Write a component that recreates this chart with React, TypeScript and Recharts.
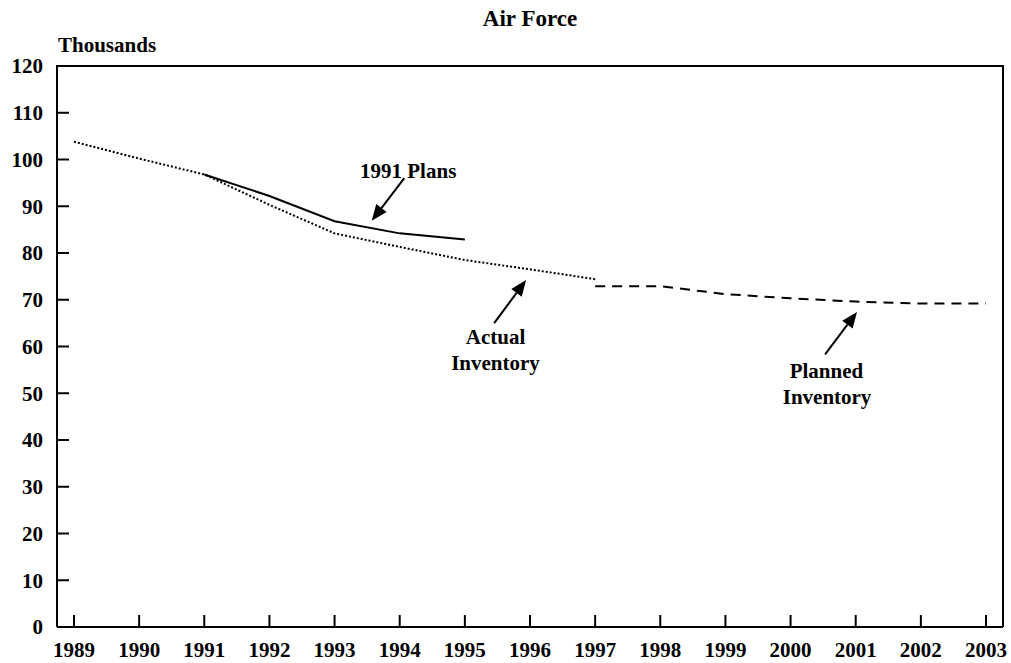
import React from "react";
import { LineChart, Line, XAxis, YAxis, ReferenceLine, ReferenceDot } from "recharts";

const years = [1989, 1990, 1991, 1992, 1993, 1994, 1995, 1996, 1997, 1998, 1999, 2000, 2001, 2002, 2003];
const actualInventory = [103.8, 100.2, 96.8, 90.3, 84.2, 81.3, 78.5, 76.5, 74.4, null, null, null, null, null, null];
const plans1991 = [null, null, 96.8, 92.2, 86.8, 84.2, 82.9, null, null, null, null, null, null, null, null];
const plannedInventory = [null, null, null, null, null, null, null, null, 72.9, 72.9, 71.2, 70.3, 69.6, 69.2, 69.2];
const yTicks = [0, 10, 20, 30, 40, 50, 60, 70, 80, 90, 100, 110, 120];

const data = years.map((y, i) => ({
  year: y,
  actual: actualInventory[i],
  plans: plans1991[i],
  planned: plannedInventory[i],
}));

const FONT = "'Liberation Serif', 'Times New Roman', serif";

const Arrow = (p: any) => {
  const { x1, y1, x2, y2 } = p;
  const dx = x2 - x1;
  const dy = y2 - y1;
  const len = Math.sqrt(dx * dx + dy * dy);
  const ux = dx / len;
  const uy = dy / len;
  const hl = 16;
  const hw = 6.5;
  const bx = x2 - ux * hl;
  const by = y2 - uy * hl;
  const px = -uy;
  const py = ux;
  return (
    <g>
      <line x1={x1} y1={y1} x2={bx} y2={by} stroke="#000" strokeWidth={2} />
      <polygon
        points={`${x2},${y2} ${bx + px * hw},${by + py * hw} ${bx - px * hw},${by - py * hw}`}
        fill="#000"
      />
    </g>
  );
};

const makeLabel = (text: string) => (p: any) => (
  <text
    x={p.cx}
    y={p.cy}
    textAnchor="middle"
    fontFamily={FONT}
    fontWeight="bold"
    fontSize={21}
    fill="#000"
  >
    {text}
  </text>
);

const annotations = [
  { text: "1991 Plans", x: 1994.13, y: 96.0 },
  { text: "Actual", x: 1995.47, y: 60.5 },
  { text: "Inventory", x: 1995.47, y: 55.0 },
  { text: "Planned", x: 2000.55, y: 53.3 },
  { text: "Inventory", x: 2000.56, y: 47.7 },
];

const arrows = [
  { from: { x: 1994.07, y: 96.0 }, to: { x: 1993.57, y: 86.9 } },
  { from: { x: 1995.45, y: 65.0 }, to: { x: 1995.94, y: 74.2 } },
  { from: { x: 2000.53, y: 58.3 }, to: { x: 2001.02, y: 67.4 } },
];

export default function App() {
  return (
    <div
      style={{
        position: "absolute",
        left: 0,
        top: 0,
        width: 1011,
        height: 663,
        background: "#fff",
        fontFamily: FONT,
      }}
    >
      <div
        style={{
          position: "absolute",
          left: 57,
          width: 946,
          top: 7,
          textAlign: "center",
          fontSize: 23,
          lineHeight: "23px",
          fontWeight: "bold",
        }}
      >
        Air Force
      </div>
      <div
        style={{
          position: "absolute",
          left: 58,
          top: 35,
          fontSize: 21,
          lineHeight: "21px",
          fontWeight: "bold",
        }}
      >
        Thousands
      </div>
      <LineChart
        width={1011}
        height={663}
        data={data}
        margin={{ top: 66, right: 8, bottom: 0, left: 10 }}
      >
        <XAxis
          dataKey="year"
          type="number"
          domain={[1989, 2003]}
          ticks={years}
          interval={0}
          padding={{ left: 17, right: 17 }}
          height={36}
          tickSize={-12}
          tickMargin={27}
          axisLine={{ stroke: "#000", strokeWidth: 2 }}
          tickLine={{ stroke: "#000", strokeWidth: 2 }}
          tick={{ fill: "#000", fontSize: 21, fontWeight: "bold", fontFamily: FONT }}
        />
        <YAxis
          type="number"
          domain={[0, 120]}
          ticks={yTicks}
          interval={0}
          width={47}
          tickSize={-12}
          tickMargin={26}
          axisLine={{ stroke: "#000", strokeWidth: 2 }}
          tickLine={{ stroke: "#000", strokeWidth: 2 }}
          tick={{ fill: "#000", fontSize: 21, fontWeight: "bold", fontFamily: FONT }}
        />
        <Line
          dataKey="actual"
          stroke="#000"
          strokeWidth={2}
          strokeDasharray="2 2"
          dot={false}
          activeDot={false}
          isAnimationActive={false}
        />
        <Line
          dataKey="plans"
          stroke="#000"
          strokeWidth={2}
          dot={false}
          activeDot={false}
          isAnimationActive={false}
        />
        <Line
          dataKey="planned"
          stroke="#000"
          strokeWidth={2}
          strokeDasharray="10 7"
          dot={false}
          activeDot={false}
          isAnimationActive={false}
        />
        {arrows.map((a, i) => (
          <ReferenceLine key={"a" + i} segment={[a.from, a.to]} shape={Arrow} />
        ))}
        {annotations.map((a, i) => (
          <ReferenceDot key={"t" + i} x={a.x} y={a.y} r={1} shape={makeLabel(a.text)} />
        ))}
      </LineChart>
      <div
        style={{
          position: "absolute",
          left: 56,
          top: 65,
          width: 948,
          height: 562,
          borderTop: "2px solid #000",
          borderRight: "2px solid #000",
          boxSizing: "border-box",
          pointerEvents: "none",
        }}
      />
    </div>
  );
}
